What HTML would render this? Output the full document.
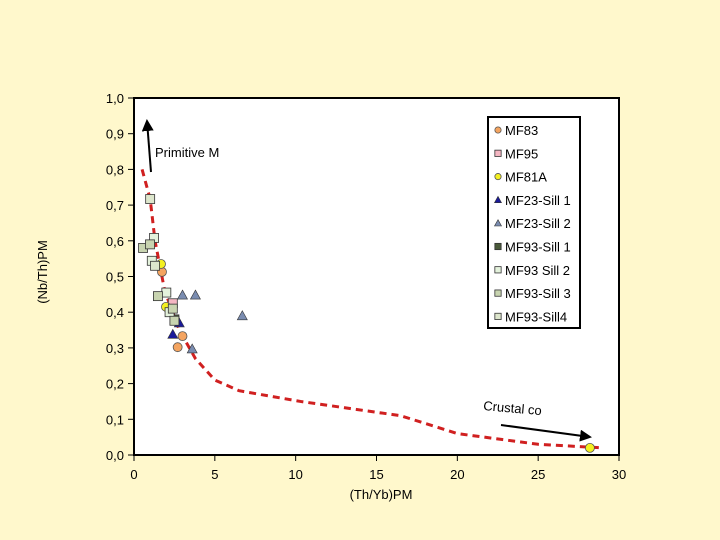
<!DOCTYPE html>
<html><head><meta charset="utf-8"><style>
html,body{margin:0;padding:0;background:#FFF8CC;}
svg{display:block;font-family:"Liberation Sans",sans-serif;}
</style></head><body>
<svg id="chart" width="720" height="540">
<rect x="0" y="0" width="720" height="540" fill="#FFF8CC"/>
<rect x="134" y="98" width="485" height="357" fill="#ffffff"/>
<g id="marks"></g>
<rect x="134" y="98" width="485" height="357" fill="none" stroke="#000" stroke-width="2"/>
<g id="axes"></g>
<text x="47" y="272" font-size="13" text-anchor="middle" transform="rotate(-90 47 272)">(Nb/Th)PM</text>
<text x="381" y="499" font-size="13" text-anchor="middle">(Th/Yb)PM</text>
<defs><clipPath id="pc"><rect x="150" y="140" width="69" height="25"/></clipPath>
<marker id="ah" markerWidth="6" markerHeight="6" refX="5" refY="3" orient="auto"><path d="M0,0 L6,3 L0,6 z" fill="#000"/></marker></defs>
<line x1="151" y1="172" x2="147" y2="121" stroke="#000" stroke-width="2" marker-end="url(#ah)"/>
<text x="155" y="157" font-size="13" clip-path="url(#pc)">Primitive Mantle</text>
<line x1="501" y1="425" x2="590" y2="437" stroke="#000" stroke-width="2" marker-end="url(#ah)"/>
<text x="483" y="410" font-size="13" transform="rotate(5 483 410)">Crustal co</text>
<g id="legend"></g>
</svg>
<script>
const xTicks=[0,5,10,15,20,25,30];
const yTicks=[0,0.1,0.2,0.3,0.4,0.5,0.6,0.7,0.8,0.9,1.0];
const trendX=[0.5,1.0,1.3,1.9,2.8,3.8,5.0,6.5,10.3,16.5,20,25,29];
const trendY=[0.80,0.717,0.60,0.46,0.35,0.27,0.21,0.18,0.15,0.11,0.06,0.03,0.02];
const seriesNames=["MF83","MF95","MF81A","MF23-Sill 1","MF23-Sill 2","MF93-Sill 1","MF93 Sill 2","MF93-Sill 3","MF93-Sill4"];
const mf83X=[1.73,3.0,2.7];const mf83Y=[0.513,0.333,0.302];
const mf95X=[2.4];const mf95Y=[0.425];
const mf81aX=[1.67,1.98,28.2];const mf81aY=[0.535,0.415,0.02];
const sill1X=[2.8,2.4];const sill1Y=[0.37,0.338];
const sill2X=[3.0,3.8,6.7,3.6];const sill2Y=[0.448,0.448,0.39,0.297];
const mf93s1X=[2.5];const mf93s1Y=[0.38];
const mf93s2X=[1.24,1.1,2.0,2.2];const mf93s2Y=[0.608,0.544,0.455,0.40];
const mf93s3X=[0.56,0.99,1.48,2.4,2.5];const mf93s3Y=[0.58,0.59,0.445,0.41,0.376];
const mf93s4X=[1.0,1.3];const mf93s4Y=[0.717,0.53];
const X=v=>134+v*485/30, Y=v=>455-v*357;
const NS="http://www.w3.org/2000/svg";
function mk(t,a,p){const e=document.createElementNS(NS,t);for(const k in a)e.setAttribute(k,a[k]);p.appendChild(e);return e;}
const axes=document.getElementById('axes'),marks=document.getElementById('marks'),leg=document.getElementById('legend');
xTicks.forEach(v=>{const l=mk('line',{x1:X(v),x2:X(v),y1:455,y2:461,stroke:'#000'},axes);


const t=mk('text',{x:X(v),y:479,'font-size':13,'text-anchor':'middle'},axes);t.textContent=v;

});
yTicks.forEach(v=>{const l=mk('line',{x1:128,x2:134,y1:Y(v),y2:Y(v),stroke:'#000'},axes);


const t=mk('text',{x:124,y:Y(v)+5,'font-size':13,'text-anchor':'end'},axes);t.textContent=v.toFixed(1).replace('.',',');

});
const tl=mk('polyline',{points:trendX.map((x,i)=>X(x)+','+Y(trendY[i])).join(' '),fill:'none',stroke:'#d02020','stroke-width':3,'stroke-dasharray':'7,5'},marks);


function sym(kind,fill,x,y,p,s){s=s||1;
 if(kind==='c')return mk('circle',{cx:x,cy:y,r:4.5*s,fill:fill,stroke:'#555','stroke-width':0.8},p);
 if(kind==='s')return mk('rect',{x:x-4.5*s,y:y-4.5*s,width:9*s,height:9*s,fill:fill,stroke:'#333','stroke-width':0.8},p);
 return mk('polygon',{points:`${x},${y-5*s} ${x+5*s},${y+4*s} ${x-5*s},${y+4*s}`,fill:fill,stroke:'#333','stroke-width':0.6},p);}
const series=[['c','#F4A460',mf83X,mf83Y],['s','#F4B6C2',mf95X,mf95Y],['c','#F4F020',mf81aX,mf81aY],['t','#1a1a9a',sill1X,sill1Y],['t','#7a8cb0',sill2X,sill2Y],['s','#4a5a3a',mf93s1X,mf93s1Y],['s','#e4f2dc',mf93s2X,mf93s2Y],['s','#c8d4b0',mf93s3X,mf93s3Y],['s','#dde6cc',mf93s4X,mf93s4Y]];
series.forEach((s,i)=>{s[2].forEach((x,j)=>{const e=sym(s[0],s[1],X(x),Y(s[3][j]),marks);

});});
const lb=mk('rect',{x:488,y:117,width:92,height:211,fill:'#fff',stroke:'#000','stroke-width':2},leg);


series.forEach((s,i)=>{const y=130+i*23.3;const g=mk('g',{},leg);


sym(s[0],s[1],498,y,g,0.7);const t=mk('text',{x:505,y:y+5,'font-size':13},g);t.textContent=seriesNames[i];});
</script>
</body></html>
